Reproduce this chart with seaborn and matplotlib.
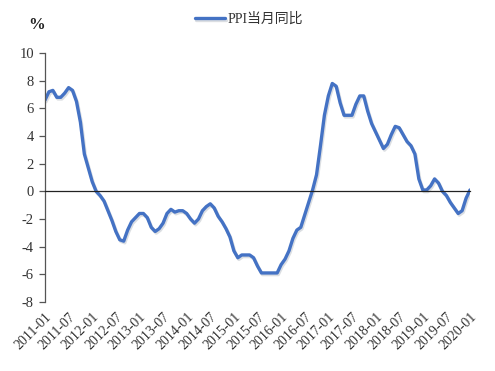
import pandas as pd
import matplotlib.pyplot as plt
import matplotlib.patheffects as pe
import seaborn as sns

# PPI year-on-year, monthly, 2011-01 .. 2020-01
months = pd.period_range('2011-01', '2020-01', freq='M').strftime('%Y-%m').tolist()
ppi = [
    6.6, 7.2, 7.3, 6.8, 6.8, 7.1, 7.5, 7.3, 6.5, 5.0, 2.7, 1.7,
    0.7, 0.0, -0.3, -0.7, -1.4, -2.1, -2.9, -3.5, -3.6, -2.8, -2.2, -1.9,
    -1.6, -1.6, -1.9, -2.6, -2.9, -2.7, -2.3, -1.6, -1.3, -1.5, -1.4, -1.4,
    -1.6, -2.0, -2.3, -2.0, -1.4, -1.1, -0.9, -1.2, -1.8, -2.2, -2.7, -3.3,
    -4.3, -4.8, -4.6, -4.6, -4.6, -4.8, -5.4, -5.9, -5.9, -5.9, -5.9, -5.9,
    -5.3, -4.9, -4.3, -3.4, -2.8, -2.6, -1.7, -0.8, 0.1, 1.2, 3.3, 5.5,
    6.9, 7.8, 7.6, 6.4, 5.5, 5.5, 5.5, 6.3, 6.9, 6.9, 5.8, 4.9,
    4.3, 3.7, 3.1, 3.4, 4.1, 4.7, 4.6, 4.1, 3.6, 3.3, 2.7, 0.9,
    0.1, 0.1, 0.4, 0.9, 0.6, 0.0, -0.3, -0.8, -1.2, -1.6, -1.4, -0.5,
    0.1,
]
yticks = [-8, -6, -4, -2, 0, 2, 4, 6, 8, 10]
series_name = 'PPI当月同比'

df = pd.DataFrame({'idx': range(len(months)), 'month': months, 'ppi': ppi})

sns.set_style('white')
plt.rcParams['font.family'] = ['Liberation Serif', 'Noto Sans CJK SC']

fig = plt.figure(figsize=(4.95, 3.71), dpi=100)
ax = fig.add_axes([0.0909, 0.186, 0.8586, 0.671])

sns.lineplot(data=df, x='idx', y='ppi', ax=ax, color='#4472C4', linewidth=2.4,
             label=series_name,
             path_effects=[pe.SimpleLineShadow(offset=(0.8, -1.2), shadow_color='#9aa3ad', alpha=0.35),
                           pe.Normal()])

ax.set_xlim(0, len(months) - 1)
ax.set_ylim(-8, 10)
ax.set_yticks(yticks)
ax.set_yticklabels([str(v) for v in yticks], fontsize=10.5, color='#333333')
ax.set_xlabel('')
ax.set_ylabel('')

tick_pos = df['idx'][::6].tolist()
tick_lab = df['month'][::6].tolist()

# zero line with tick marks, labels at the bottom
ax.spines['top'].set_visible(False)
ax.spines['right'].set_visible(False)
ax.spines['bottom'].set_position(('data', 0))
ax.spines['bottom'].set_color('#222222')
ax.spines['bottom'].set_linewidth(0.9)
ax.spines['left'].set_color('#555555')
ax.spines['left'].set_linewidth(0.9)
ax.set_xticks(tick_pos)
ax.tick_params(axis='x', direction='out', length=4, width=0.9, color='#222222', labelbottom=False)
ax.tick_params(axis='y', direction='out', length=4, width=0.9, color='#555555', left=True, pad=4)

sec = ax.secondary_xaxis(0.0)
sec.set_xticks(tick_pos)
sec.set_xticklabels(tick_lab, rotation=45, ha='right', rotation_mode='anchor', fontsize=10, color='#333333')
sec.tick_params(length=0, pad=6)
sec.spines['bottom'].set_visible(False)

ax.legend(loc='center', bbox_to_anchor=(0.48, 1.135), frameon=False, fontsize=10,
          handlelength=2.2, handletextpad=0.2)
for t in ax.get_legend().get_texts():
    t.set_color('#333333')

fig.text(0.057, 0.91, '%', fontsize=12, fontweight='bold', color='#222222', ha='left', va='bottom')

fig.savefig('out.png', dpi=100)
